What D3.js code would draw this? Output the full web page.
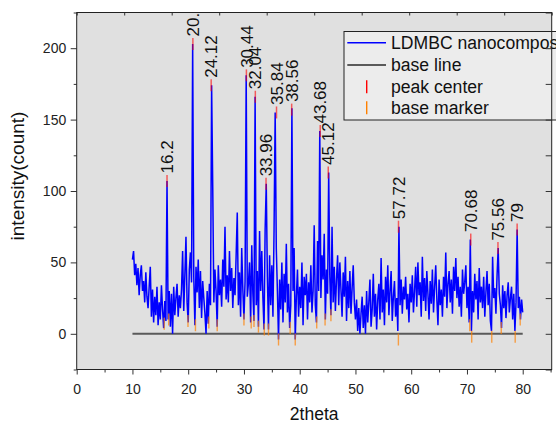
<!DOCTYPE html>
<html>
<head>
<meta charset="utf-8">
<script src="https://cdn.jsdelivr.net/npm/d3@7"></script>
<style>
  html, body { margin: 0; padding: 0; background: #fff; }
  svg { display: block; font-family: "Liberation Sans", Arial, sans-serif; }
</style>
</head>
<body>
<svg id="chart" width="556" height="423"></svg>
<script>
// XRD scan, 2theta from 10 to 80 deg, one reading every 0.2 deg
const thetaStart = 10;
const thetaStep = 0.2;
const intensity = [
  52, 58, 41, 49, 34,   46, 27, 41, 48, 30,   37, 22, 43, 26, 18,   33, 47, 12, 31, 8,
  26, 13, 33, 6, 22,    10, 34, 17, 4, 23,    9, 107, 10, 30, 5,    28, 0, 33, 13, 25,
  35, 12, 27, 18, 31,   58, 16, 41, 68, 22,   8, 45, 57, 36, 203,   40, 6, 47, 29, 52,
  18, 44, 11, 37, 25,   14, 0, 30, 7, 35,     20, 174, 103, 22, 45, 30, 5, 48, 27, 38,
  19, 52, 33, 75, 24,   41, 22, 58, 30, 46,   18, 39, 27, 55, 85,   20, 43, 12, 60, 31,
  10, 37, 181, 26, 35,  50, 8, 62, 28, 9,     166, 20, 44, 5, 72,   30, 58, 25, 3, 73,
  105, 40, 3, 55, 20,   48, 12, 73, 155, 60,  30, -4, 38, 17, 50,   8, 42, 22, 63, 15,
  35, 4, 20, 158, 30,   60, -4, 26, 45, 12,   33, 18, 50, 6, 40,    27, 42, 10, 36, 22,
  48, 15, 30, 76, 20,   8, 65, 30, 142, 25,   55, 38, 70, 10, 45,   28, 113, 40, 13, 75,
  22, 47, 16, 38, 55,   20, 50, 31, 12, 43,   26, 54, 9, 37, 18,    44, 14, 32, 48, 22,
  10, 24, 2, 18, 0,     14, 26, 4, 20, 0,     30, 8, 22, 38, 5,     17, 42, 12, 28, 3,
  24, 35, 10, 53, 15,   31, 6, 40, 22, 48,    13, 30, 44, 9, 26,    37, 12, 25, 2, 75,
  20, 38, 14, 33, 24,   40, 17, 28, 8, 35,    22, 41, 15, 30, 47,   19, 50, 27, 36, 12,
  54, 23, 39, 16, 44,   28, 10, 37, 21, 45,   15, 33, 48, 24, 6,    38, 20, 31, 12, 40,
  26, 57, 18, 35, 44,   22, 38, 14, 47, 30,   53, 25, 40, 19, 33,   12, 45, 28, 36, 48,
  18, 33, 8, 66, 2,     30, 15, 42, 24, 37,   10, 46, 22, 33, 18,   40, 12, 29, 44, 20,
  35, 9, 2, 54, 25,     32, 14, 41, 60, 28,   20, 4, 34, 18, 30,    11, 27, 36, 15, 25,
  33, 10, 28, 2, 22,    73, 18, 26, 10, 24,   15
];

const peakTheta = [16.2, 20.84, 24.12, 30.44, 32.04, 33.96, 35.84, 38.56, 43.68, 45.12, 57.72, 70.68, 75.56, 79];
const peakIntensity = [107, 203, 174, 181, 166, 105, 155, 157, 142, 113, 75, 66, 60, 73];
const peakLabels = ["16.2", "20.", "24.12", "30.44", "32.04", "33.96", "35.84", "38.56", "43.68", "45.12", "57.72", "70.68", "75.56", "79"];

const baseTheta = [15.7, 16.5, 19.96, 21.3, 23.7, 25.2, 30.0, 31.3, 31.8, 32.6, 33.65, 34.4, 36.2,
                   38.3, 39.2, 43.05, 44.55, 45.6, 57.7, 70.5, 70.85, 74.45, 76.15, 78.65, 79.55];
const baseIntensity = [7, 10, 9, 6, 8, 6, 10, 8, 9, 5, 3, 3, -4,
                       4, -4, 8, 10, 13, -4, 6, -2, -2, 4, -2, 10];

const baseLineTheta = [10, 80];
const baseLineValue = [0, 0];

const xMajorTicks = [0, 10, 20, 30, 40, 50, 60, 70, 80];
const xMinorTicks = [5, 15, 25, 35, 45, 55, 65, 75, 85];
const yMajorTicks = [0, 50, 100, 150, 200];
const yMinorTicks = [-25, 25, 75, 125, 175, 225];
const topTicks = [0, 1, 2, 3, 4, 5, 6, 7, 8, 9, 10];

const legendLabels = ["LDMBC nanocomposite", "base line", "peak center", "base marker"];

const svg = d3.select("#chart");
const plotLeft = 76.7, plotRight = 551.7, plotTop = 12.5, plotBottom = 369.5;

const x = d3.scaleLinear().domain([0, 85.2]).range([plotLeft, plotRight]);
const y = d3.scaleLinear().domain([-25, 225]).range([plotBottom, plotTop]);
const xTop = d3.scaleLinear().domain([0, 10]).range([plotLeft, plotRight]);

// plot background
svg.append("rect")
  .attr("x", plotLeft).attr("y", plotTop)
  .attr("width", plotRight - plotLeft).attr("height", plotBottom - plotTop)
  .attr("fill", "#e0e0e0");

// base line
svg.append("path")
  .datum(baseLineTheta.map((t, i) => [t, baseLineValue[i]]))
  .attr("d", d3.line().x(d => x(d[0])).y(d => y(d[1])))
  .attr("stroke", "#5a5a5a").attr("stroke-width", 2).attr("fill", "none");

// measured pattern
const pattern = intensity.map((v, i) => [thetaStart + i * thetaStep, v]);
svg.append("path")
  .datum(pattern)
  .attr("d", d3.line().x(d => x(d[0])).y(d => y(d[1])))
  .attr("stroke", "#0000ff").attr("stroke-width", 1.5)
  .attr("stroke-linejoin", "miter").attr("fill", "none");

const markHalf = 6;

// base markers
svg.append("g").selectAll("line")
  .data(baseTheta.map((t, i) => [t, baseIntensity[i]]))
  .join("line")
  .attr("x1", d => x(d[0])).attr("x2", d => x(d[0]))
  .attr("y1", d => y(d[1]) - markHalf).attr("y2", d => y(d[1]) + markHalf)
  .attr("stroke", "#ff8000").attr("stroke-width", 1.4).attr("stroke-opacity", 0.7);

// peak centres
svg.append("g").selectAll("line")
  .data(peakTheta.map((t, i) => [t, peakIntensity[i]]))
  .join("line")
  .attr("x1", d => x(d[0])).attr("x2", d => x(d[0]))
  .attr("y1", d => y(d[1]) - markHalf).attr("y2", d => y(d[1]) + markHalf)
  .attr("stroke", "#ff0000").attr("stroke-width", 1.5).attr("stroke-opacity", 0.6);

// peak labels, rotated
svg.append("g").selectAll("text")
  .data(peakTheta.map((t, i) => ({ t: t, v: peakIntensity[i], label: peakLabels[i] })))
  .join("text")
  .attr("transform", d => `translate(${x(d.t)},${y(d.v) - markHalf - 1.5}) rotate(-90)`)
  .attr("dy", "0.36em")
  .attr("font-size", 17)
  .attr("fill", "#111")
  .text(d => d.label);

// legend
const legend = svg.append("g").attr("transform", "translate(344,31.5)");
legend.append("rect")
  .attr("width", 260).attr("height", 88.5)
  .attr("fill", "#ececec").attr("stroke", "#222").attr("stroke-width", 1);
const rowY = [11.2, 33.5, 55.2, 76.2];
legend.append("line").attr("x1", 3.3).attr("x2", 42).attr("y1", rowY[0]).attr("y2", rowY[0])
  .attr("stroke", "#0000ff").attr("stroke-width", 1.4);
legend.append("line").attr("x1", 3.3).attr("x2", 42).attr("y1", rowY[1]).attr("y2", rowY[1])
  .attr("stroke", "#5a5a5a").attr("stroke-width", 2);
legend.append("line").attr("x1", 22.7).attr("x2", 22.7).attr("y1", rowY[2] - 6.5).attr("y2", rowY[2] + 6.5)
  .attr("stroke", "#ff0000").attr("stroke-width", 1.4);
legend.append("line").attr("x1", 22.7).attr("x2", 22.7).attr("y1", rowY[3] - 6.5).attr("y2", rowY[3] + 6.5)
  .attr("stroke", "#ff8000").attr("stroke-width", 1.4);
legend.selectAll("text.lab")
  .data(legendLabels)
  .join("text")
  .attr("class", "lab")
  .attr("x", 47).attr("y", (d, i) => rowY[i] + 6.3)
  .attr("font-size", 17.6).attr("fill", "#111")
  .text(d => d);

// axes
function styleAxis(g) {
  g.select(".domain").remove();
  g.selectAll(".tick line").attr("stroke", "#333");
  g.selectAll(".tick text").attr("fill", "#222").attr("font-size", 14)
    .attr("font-family", "'Liberation Sans', Arial, sans-serif");
}

svg.append("g").attr("transform", `translate(0,${plotBottom})`)
  .call(d3.axisBottom(x).tickValues(xMajorTicks).tickSizeInner(5).tickSizeOuter(0).tickPadding(9.5))
  .call(styleAxis);
svg.append("g").attr("transform", `translate(0,${plotBottom})`)
  .call(d3.axisBottom(x).tickValues(xMinorTicks.filter(t => x(t) <= plotRight)).tickSize(3).tickFormat(""))
  .call(styleAxis);

svg.append("g").attr("transform", `translate(${plotLeft},0)`)
  .call(d3.axisLeft(y).tickValues(yMajorTicks).tickSizeInner(6).tickSizeOuter(0).tickPadding(4.5))
  .call(styleAxis);
svg.append("g").attr("transform", `translate(${plotLeft},0)`)
  .call(d3.axisLeft(y).tickValues(yMinorTicks).tickSize(3).tickFormat(""))
  .call(styleAxis);

svg.append("g").attr("transform", `translate(0,${plotTop})`)
  .call(d3.axisTop(xTop).tickValues(topTicks).tickSize(-3).tickFormat(""))
  .call(styleAxis);

svg.append("g").attr("transform", `translate(${plotRight},0)`)
  .call(d3.axisRight(y).tickValues(yMajorTicks.concat(yMinorTicks)).tickSize(-6).tickFormat(""))
  .call(styleAxis);

// frame
svg.append("rect")
  .attr("x", plotLeft).attr("y", plotTop)
  .attr("width", plotRight - plotLeft).attr("height", plotBottom - plotTop)
  .attr("fill", "none").attr("stroke", "#222").attr("stroke-width", 1);

// axis titles
svg.append("text")
  .attr("x", (plotLeft + plotRight) / 2).attr("y", 420)
  .attr("text-anchor", "middle").attr("font-size", 17.5).attr("fill", "#111")
  .text("2theta");
svg.append("text")
  .attr("x", 316.5).attr("y", 427.5)
  .attr("text-anchor", "middle").attr("font-size", 9).attr("fill", "#111")
  .text("o");
svg.append("text")
  .attr("transform", "translate(24,176) rotate(-90)")
  .attr("text-anchor", "middle").attr("font-size", 19).attr("fill", "#111")
  .text("intensity(count)");
</script>
</body>
</html>
